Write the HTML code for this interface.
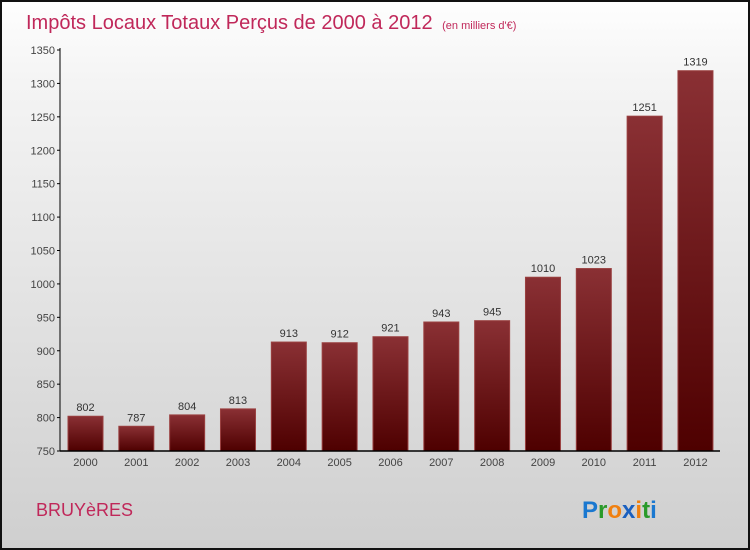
<!DOCTYPE html>
<html><head><meta charset="utf-8"><style>
body{margin:0}
#c{width:746px;height:546px;border:2px solid #111;position:relative;background:linear-gradient(#fefefe,#f4f4f4 15%,#cfcfcf);font-family:"Liberation Sans",sans-serif;overflow:hidden}
</style></head><body>
<div id="c">
<svg width="746" height="546" style="position:absolute;left:0;top:0" id="s">
<defs><linearGradient id="g" x1="0" y1="0" x2="0" y2="1"><stop offset="0" stop-color="#8a3034"/><stop offset="1" stop-color="#4e0000"/></linearGradient></defs>
<text x="24" y="27" font-size="20" fill="#c0285a">Impôts Locaux Totaux Perçus de 2000 à 2012 <tspan font-size="11" dx="4">(en milliers d'€)</tspan></text>
<text x="34" y="514" font-size="18" fill="#c0285a">BRUYèRES</text>
<text x="580" y="516" font-size="24" font-weight="bold"><tspan fill="#1a78d0">P</tspan><tspan fill="#2a9a2a">r</tspan><tspan fill="#f08010">o</tspan><tspan fill="#1a60c0">x</tspan><tspan fill="#f08010">i</tspan><tspan fill="#2a9a2a">t</tspan><tspan fill="#1a78d0">i</tspan></text>
<g id="plot"></g>
</svg>
</div>
<script>
const categories=["2000","2001","2002","2003","2004","2005","2006","2007","2008","2009","2010","2011","2012"];
const values=[802,787,804,813,913,912,921,943,945,1010,1023,1251,1319];
const ticks=[750,800,850,900,950,1000,1050,1100,1150,1200,1250,1300,1350];
const ns="http://www.w3.org/2000/svg";
const g=document.getElementById("plot");
const ox=-2,oy=-2;
const y=v=>oy+451-(v-750)*(401/600);
const x=i=>ox+68+i*50.83;
function el(t,a,txt){const e=document.createElementNS(ns,t);for(const k in a)e.setAttribute(k,a[k]);if(txt!=null)e.textContent=txt;g.appendChild(e);return e;}
ticks.forEach(t=>{
 const l=el("line",{x1:ox+57,x2:ox+60,y1:y(t),y2:y(t),stroke:"#000"});
 
 
 const tx=el("text",{x:ox+55,y:y(t)+4,"font-size":11,fill:"#444","text-anchor":"end"},t);
 
 
});
values.forEach((v,i)=>{
 const r=el("rect",{x:x(i),y:y(v),width:35,height:y(750)-y(v),fill:"url(#g)",stroke:"#9a4040","stroke-width":1});
 
 
 const t=el("text",{x:x(i)+17.5,y:y(v)-5,"font-size":11,fill:"#333","text-anchor":"middle"},v);
 
 
 const c=el("text",{x:x(i)+17.5,y:y(750)+15,"font-size":11,fill:"#444","text-anchor":"middle"},categories[i]);
 
 
});
const ya=el("line",{x1:ox+60,x2:ox+60,y1:y(1350)-2,y2:y(750),stroke:"#000"});


const xa=el("line",{x1:ox+60,x2:ox+720,y1:y(750),y2:y(750),stroke:"#000","stroke-width":1.5});


</script>
</body></html>
